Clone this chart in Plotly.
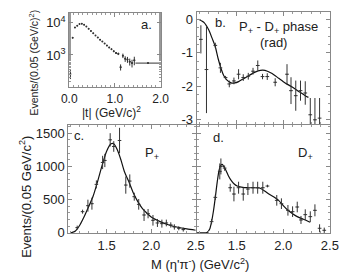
import plotly.graph_objects as go

W, H = 347, 274
def fx(p): return p / W
def fy(p): return 1 - p / H

# ---- panel a : |t| distribution ----
t_vals = [0.025, 0.075, 0.125, 0.175, 0.225, 0.275, 0.325, 0.375, 0.425, 0.475,
          0.525, 0.575, 0.625, 0.675, 0.725, 0.775, 0.825, 0.875, 0.925, 0.975,
          1.025, 1.075, 1.125, 1.175, 1.225, 1.275, 1.325, 1.375, 1.425, 1.725]
t_counts = [260, 3400, 7000, 8000, 9000, 9200, 8500, 7500, 6400, 5500,
            4700, 4000, 3450, 2950, 2600, 2250, 1950, 1700, 1500, 1300,
            1150, 1080, 420, 950, 760, 720, 620, 560, 680, 560]
t_yerr = [80, 150, 200, 200, 200, 200, 200, 180, 160, 140,
          120, 110, 100, 90, 90, 80, 80, 80, 80, 80,
          80, 90, 90, 150, 150, 150, 150, 150, 200, 30]
t_xerr = [0.0, 0.01, 0.01, 0.01, 0.01, 0.01, 0.01, 0.01, 0.01, 0.01,
          0.01, 0.01, 0.01, 0.01, 0.01, 0.01, 0.01, 0.01, 0.01, 0.01,
          0.02, 0.02, 0.02, 0.02, 0.02, 0.02, 0.02, 0.02, 0.02, 0.275]

# ---- panel b : P+ - D+ phase ----
ph_m = [1.115, 1.175, 1.27, 1.325, 1.38, 1.42, 1.47, 1.52, 1.57, 1.624, 1.675,
        1.726, 1.777, 1.828, 1.913, 2.04, 2.083, 2.134, 2.185, 2.236, 2.29, 2.34, 2.39]
ph_val = [-0.6, -1.5, -0.78, -1.45, -1.74, -1.93, -1.84, -1.64, -1.74, -1.70, -1.55,
          -1.38, -1.71, -1.71, -1.88, -1.64, -2.13, -2.28, -2.13, -2.2, -2.85, -3.0, -2.95]
ph_err = [0.42, 1.3, 0.08, 0.15, 0.05, 0.1, 0.1, 0.15, 0.1, 0.1, 0.1,
          0.15, 0.08, 0.1, 0.12, 0.3, 0.4, 0.45, 0.3, 0.35, 0.5, 0.65, 0.6]
ph_fit_m = [1.09, 1.15, 1.2, 1.24, 1.27, 1.3, 1.335, 1.36, 1.39, 1.44, 1.48, 1.52,
            1.57, 1.624, 1.68, 1.73, 1.78, 1.83, 1.88, 1.95, 2.02, 2.1, 2.17, 2.236, 2.27]
ph_fit = [0.0, -0.1, -0.32, -0.6, -0.82, -1.17, -1.5, -1.68, -1.8, -1.9, -1.9, -1.86,
          -1.78, -1.69, -1.6, -1.54, -1.52, -1.55, -1.62, -1.76, -1.9, -2.03, -2.16, -2.28, -2.33]

# ---- panel c : P+ wave ----
pc_m = [1.17, 1.23, 1.29, 1.335, 1.385, 1.455, 1.48, 1.54, 1.58, 1.645, 1.715, 1.76,
        1.81, 1.86, 1.92, 1.965, 2.02, 2.07, 2.12, 2.17, 2.22, 2.26, 2.31, 2.36]
pc_val = [80, 320, 410, 440, 730, 1060, 1090, 1400, 1300, 1390, 720, 780,
          545, 430, 270, 290, 190, 150, 140, 150, 120, 90, 70, 50]
pc_err = [30, 30, 90, 90, 60, 100, 100, 100, 80, 190, 130, 100,
          60, 80, 90, 70, 80, 60, 60, 50, 40, 40, 30, 30]
pc_fit_m = [1.10, 1.15, 1.2, 1.25, 1.3, 1.35, 1.4, 1.45, 1.5, 1.55, 1.58, 1.62, 1.66,
            1.7, 1.75, 1.8, 1.85, 1.9, 1.95, 2.0, 2.1, 2.2, 2.3, 2.4, 2.5]
pc_fit = [0, 30, 120, 250, 400, 560, 780, 1020, 1230, 1340, 1340, 1250, 1100,
          920, 770, 600, 470, 370, 300, 240, 170, 120, 85, 60, 40]

# ---- panel d : D+ wave ----
pd_m = [1.23, 1.27, 1.318, 1.33, 1.37, 1.43, 1.47, 1.52, 1.57, 1.62, 1.675, 1.725,
        1.78, 1.83, 1.93, 1.98, 2.05, 2.1, 2.15, 2.19, 2.236, 2.29, 2.34, 2.39, 2.44]
pd_val = [170, 535, 925, 1000, 975, 680, 585, 680, 585, 660, 680, 680,
          680, 705, 490, 440, 340, 320, 390, 195, 275, 245, 340, 70, 40]
pd_err = [40, 40, 120, 120, 40, 60, 110, 90, 100, 90, 90, 90,
          90, 20, 80, 80, 80, 80, 80, 60, 80, 80, 90, 60, 40]
pd_fit_m = [1.07, 1.15, 1.18, 1.21, 1.23, 1.25, 1.27, 1.29, 1.31, 1.33, 1.345, 1.36,
            1.385, 1.41, 1.44, 1.47, 1.505, 1.55, 1.61, 1.68, 1.745, 1.8, 1.845, 1.9,
            1.95, 2.0, 2.05, 2.1, 2.15, 2.2, 2.236, 2.29]
pd_fit = [0, 0, 5, 60, 170, 330, 535, 760, 940, 1020, 1030, 1000,
          940, 860, 790, 740, 705, 690, 680, 680, 675, 630, 585, 540,
          490, 410, 340, 290, 245, 215, 195, 160]

DATA_C = '#333'
FIT_C = '#111'
FONT = 'Liberation Sans, Arial, sans-serif'

def data_trace(x, y, ey, ex, xa, ya, msize=1):
    return go.Scatter(x=x, y=y, mode='markers', xaxis=xa, yaxis=ya,
                      marker=dict(size=msize, color=DATA_C),
                      error_y=dict(type='data', array=ey, thickness=1, width=0, color=DATA_C),
                      error_x=dict(type='data', array=ex, thickness=1, width=0, color=DATA_C),
                      showlegend=False, hoverinfo='skip')

def fit_trace(x, y, xa, ya):
    return go.Scatter(x=x, y=y, mode='lines', xaxis=xa, yaxis=ya,
                      line=dict(color=FIT_C, width=1.2, shape='spline', smoothing=0.6),
                      showlegend=False, hoverinfo='skip')

fig = go.Figure()
fig.add_trace(data_trace(t_vals, t_counts, t_yerr, t_xerr, 'x', 'y', msize=2))
fig.add_trace(fit_trace(ph_fit_m, ph_fit, 'x2', 'y2'))
fig.add_trace(data_trace(ph_m, ph_val, ph_err, [0.02] * len(ph_m), 'x2', 'y2'))
fig.add_trace(fit_trace(pc_fit_m, pc_fit, 'x3', 'y3'))
fig.add_trace(data_trace(pc_m, pc_val, pc_err, [0.02] * len(pc_m), 'x3', 'y3'))
fig.add_trace(fit_trace(pd_fit_m, pd_fit, 'x4', 'y4'))
fig.add_trace(data_trace(pd_m, pd_val, pd_err, [0.02] * len(pd_m), 'x4', 'y4'))

tickfont = dict(family=FONT, size=13, color='#222')
common = dict(showline=True, linecolor='#888', linewidth=1, mirror='ticks',
              ticks='inside', ticklen=4, tickcolor='#888', showgrid=False,
              zeroline=False)
mn = dict(ticks='inside', ticklen=2, tickcolor='#999')

fig.update_layout(
    width=W, height=H, autosize=False,
    margin=dict(l=0, r=0, t=0, b=0),
    paper_bgcolor='white', plot_bgcolor='white',
    xaxis=dict(domain=[fx(56), fx(152)], range=[0, 2.0], anchor='y',
               tickvals=[0, 1, 2], ticktext=['0.0', '1.0', '2.0'],
               tickfont=dict(family=FONT, size=12, color='#222'),
               minor=dict(dtick=0.1, **mn), **common),
    yaxis=dict(domain=[fy(81.7), fy(5)], type='log', range=[2.0, 4.3], anchor='x',
               tickvals=[1000, 10000], ticktext=['10<sup>3</sup>', '10<sup>4</sup>'],
               tickfont=tickfont, minor=dict(**mn), **common),
    xaxis2=dict(domain=[fx(190), fx(330)], range=[1.07, 2.5], anchor='y2',
                tickvals=[1.5, 2.0, 2.5], showticklabels=False, tickfont=tickfont,
                minor=dict(dtick=0.1, **mn), **common),
    yaxis2=dict(domain=[fy(120), fy(4)], range=[-3.14, 0.22], anchor='x2',
                tickvals=[0, -1, -2, -3], ticktext=['0', '-1', '-2', '-3'],
                tickfont=tickfont, minor=dict(dtick=0.25, **mn), **common),
    xaxis3=dict(domain=[fx(55), fx(189)], range=[1.07, 2.5], anchor='y3',
                tickvals=[1.5, 2.0, 2.5], ticktext=['1.5', '2.0', '2.5'],
                tickfont=tickfont, minor=dict(dtick=0.1, **mn), **common),
    yaxis3=dict(domain=[fy(231.7), fy(121)], range=[0, 1616], anchor='x3',
                tickvals=[0, 500, 1000, 1500],
                tickfont=tickfont, minor=dict(dtick=100, **mn), **common),
    xaxis4=dict(domain=[fx(190), fx(330)], range=[1.07, 2.5], anchor='y4',
                tickvals=[1.5, 2.0, 2.5], ticktext=['1.5', '2.0', '2.5'],
                tickfont=tickfont, minor=dict(dtick=0.1, **mn), **common),
    yaxis4=dict(domain=[fy(231.7), fy(121)], range=[0, 1616], anchor='x4',
                tickvals=[0, 500, 1000, 1500], showticklabels=False,
                tickfont=tickfont, minor=dict(dtick=100, **mn), **common),
)

def ann(text, x, y, size=13, angle=0):
    fig.add_annotation(text=text, x=fx(x), y=fy(y), xref='paper', yref='paper',
                       showarrow=False, textangle=angle, xanchor='center', yanchor='middle',
                       font=dict(family=FONT, size=size, color='#222'))

ann('a.', 137, 17)
ann('b.', 215, 15)
ann('P<sub>+</sub> - D<sub>+</sub> phase', 276, 20)
ann('(rad)', 271, 36)
ann('c.', 66, 131)
ann('P<sub>+</sub>', 143, 150)
ann('d.', 213, 133)
ann('D<sub>+</sub>', 304, 150)
ann('|t| (GeV/c)<sup>2</sup>', 100, 107, size=12)
ann('Events/(0.05 (GeV/c)<sup>2</sup>)', 18, 56, size=10.5, angle=-90)
ann('Events/(0.05 GeV/c<sup>2</sup>)', 10, 195, size=13, angle=-90)
ann("M (η'π<sup>-</sup>) (GeV/c<sup>2</sup>)", 194, 264, size=13)

fig.write_html('out.html')
